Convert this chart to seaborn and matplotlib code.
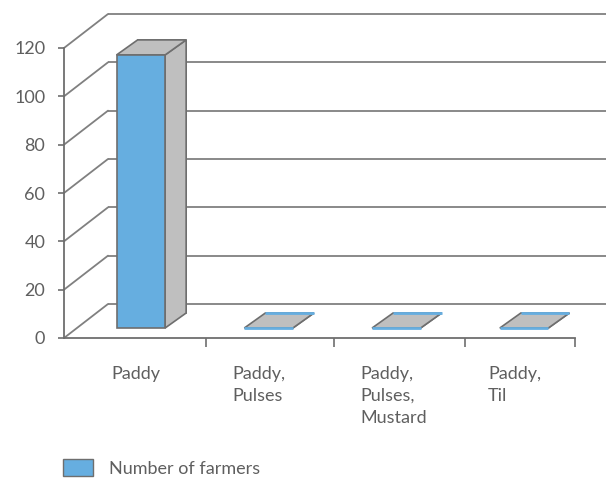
import matplotlib
matplotlib.use("Agg")
import matplotlib.pyplot as plt
import matplotlib.transforms as mtransforms
from matplotlib.patches import Polygon, Patch
import pandas as pd
import seaborn as sns

# Data
categories = ["Paddy", "Paddy,\nPulses", "Paddy,\nPulses,\nMustard", "Paddy,\nTil"]
farmers = [113, 0, 0, 0]
y_ticks = [0, 20, 40, 60, 80, 100, 120]
series_name = "Number of farmers"

# Colours
BLUE = "#66AEE0"
SIDE = "#BFBFBF"
EDGE = "#6E6E6E"
GRID = "#808080"
TEXT = "#5F5F5F"

# Depth offsets (pixels, x right / y up)
BAR_FRONT = (13, 10)
BAR_BACK = (34, 25)
WALL = (44, 34)

sns.set_theme(style="white")
plt.rcParams["font.family"] = ["Lato", "DejaVu Sans"]

W, H = 606, 478
fig = plt.figure(figsize=(W / 100, H / 100), dpi=100)
ax = fig.add_axes([64 / W, 140 / H, 511 / W, 290 / H])

df = pd.DataFrame({"crop": categories, "farmers": farmers})
sns.barplot(data=df, x="crop", y="farmers", color=BLUE, saturation=1,
            width=0.38, edgecolor=EDGE, linewidth=1.2, ax=ax, zorder=5)
ax.set_xlim(-0.5, 3.5)
ax.set_ylim(0, 120)
ax.set_xlabel("")
ax.set_ylabel("")


def shifted(dx, dy):
    return ax.transData + mtransforms.ScaledTranslation(dx / 100, dy / 100,
                                                        fig.dpi_scale_trans)


ident = mtransforms.IdentityTransform()

# Back wall gridlines and left wall diagonals
ax.hlines(y_ticks, -0.5, 3.5, transform=shifted(*WALL), colors=GRID,
          lw=1.3, clip_on=False, zorder=1)
for yv in y_ticks:
    px, py = ax.transData.transform((-0.5, yv))
    ax.plot([px, px + WALL[0]], [py, py + WALL[1]], transform=ident,
            color=GRID, lw=1.3, clip_on=False, zorder=1)

# 3D bar faces built from the bar patches
for patch in list(ax.patches):
    x0, w, h = patch.get_x(), patch.get_width(), patch.get_height()
    corners = ax.transData.transform([(x0, 0), (x0 + w, 0), (x0 + w, h), (x0, h)])
    (lb, rb, rt, lt) = corners

    def off(p, o):
        return (p[0] + o[0], p[1] + o[1])

    back = [off(lb, BAR_BACK), off(rb, BAR_BACK), off(rt, BAR_BACK), off(lt, BAR_BACK)]
    side = [off(rb, BAR_FRONT), off(rb, BAR_BACK), off(rt, BAR_BACK), off(rt, BAR_FRONT)]
    top = [off(lt, BAR_FRONT), off(rt, BAR_FRONT), off(rt, BAR_BACK), off(lt, BAR_BACK)]

    flat = h == 0
    ax.add_patch(Polygon(side, closed=True, facecolor=SIDE, edgecolor=EDGE,
                         lw=1.2, transform=ident, clip_on=False, zorder=3))
    ax.add_patch(Polygon(top, closed=True, facecolor=SIDE, edgecolor=EDGE,
                         lw=1.2, transform=ident, clip_on=False, zorder=4))
    ax.add_patch(Polygon(back, closed=True, facecolor=BLUE,
                         edgecolor=BLUE if flat else EDGE,
                         lw=2.0 if flat else 1.2, transform=ident,
                         clip_on=False, zorder=6 if flat else 2))
    patch.set_transform(shifted(*BAR_FRONT))
    patch.set_clip_on(False)
    if flat:
        patch.set_edgecolor(BLUE)
        patch.set_linewidth(2.0)
        patch.set_zorder(6)

# Front axes
for s in ["top", "right"]:
    ax.spines[s].set_visible(False)
for s in ["left", "bottom"]:
    ax.spines[s].set_color(EDGE)
    ax.spines[s].set_linewidth(1.3)
    ax.spines[s].set_zorder(7)

ax.set_yticks(y_ticks)
ax.tick_params(axis="y", direction="out", length=4.5, width=1.2, color=EDGE,
               labelsize=13, labelcolor=TEXT, pad=9, left=True)
ax.set_xticks([0.61, 1.61, 2.64, 3.5])
ax.set_xticklabels([])
ax.tick_params(axis="x", direction="out", length=6.5, width=1.2, color=EDGE,
               bottom=True)

# Category labels
lab_trans = mtransforms.blended_transform_factory(ax.transData, ax.transAxes)
label_x = [-0.13, 0.82, 1.82, 2.82]
for xpos, name in zip(label_x, categories):
    ax.text(xpos, 0, name,
            transform=lab_trans + mtransforms.ScaledTranslation(0, -0.28, fig.dpi_scale_trans),
            ha="left", va="top", fontsize=13, color=TEXT, linespacing=1.45)

# Legend
handle = Patch(facecolor=BLUE, edgecolor=EDGE, lw=1.0, label=series_name)
fig.legend(handles=[handle], loc="center left",
           bbox_to_anchor=(63 / W, 1 - 468 / H), frameon=False,
           borderpad=0, borderaxespad=0, handlelength=1.65, handleheight=1.0,
           handletextpad=0.9, prop={"size": 13}, labelcolor=TEXT)

fig.savefig("out.png", dpi=100)
